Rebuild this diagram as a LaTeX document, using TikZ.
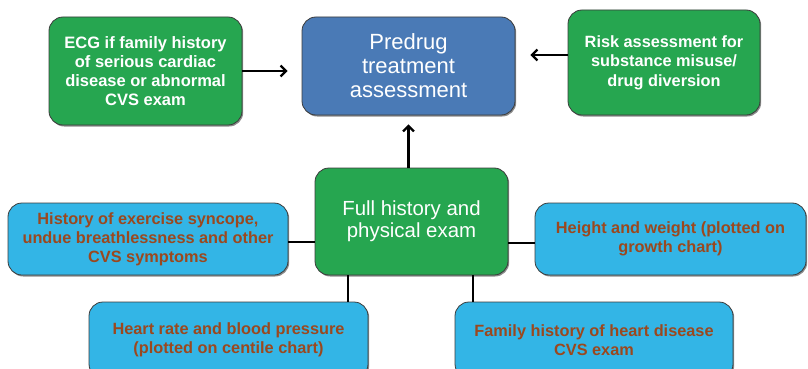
\documentclass[tikz,border=0pt]{standalone}
\usepackage{fontspec}
\setmainfont{Liberation Sans}
\usetikzlibrary{arrows.meta,shadows}
\definecolor{grn}{RGB}{38,166,80}
\definecolor{dblue}{RGB}{74,122,182}
\definecolor{lblue}{RGB}{51,181,230}
\definecolor{brn}{RGB}{155,72,30}
\definecolor{edge}{RGB}{60,60,60}
\tikzset{
  box/.style={draw=edge, line width=0.8pt, rounded corners=14pt, align=center,
    drop shadow={shadow xshift=1.2pt, shadow yshift=-1.5pt, opacity=0.45, fill=black}},
  greenbox/.style={box, fill=grn, text=white, font=\bfseries\fontsize{16.5}{19}\selectfont},
  bluebox/.style={box, fill=lblue, text=brn, font=\bfseries\fontsize{16.3}{19}\selectfont},
  arr/.style={line width=2.2pt, -{Straight Barb[length=5.5pt,width=11pt,line width=2.2pt]}},
  link/.style={line width=2.2pt}
}
\begin{document}
\begin{tikzpicture}[x=1pt,y=-1pt]
\clip (0,0) rectangle (808,369);
\fill[white] (0,0) rectangle (808,369);
\node[greenbox, minimum width=193pt, minimum height=108pt] (ecg) at (145.5,71)
  {ECG if family history\\of serious cardiac\\disease or abnormal\\CVS exam};
\node[box, fill=dblue, text=white, font=\fontsize{22}{24}\selectfont, minimum width=213pt, minimum height=98pt] (pre) at (408.5,66)
  {Predrug\\treatment\\assessment};
\node[greenbox, font=\bfseries\fontsize{16.3}{19.5}\selectfont, minimum width=192pt, minimum height=105pt] (risk) at (664,62.5)
  {Risk assessment for\\substance misuse/\\drug diversion};
\node[box, fill=grn, text=white, font=\fontsize{20.4}{22}\selectfont, minimum width=193pt, minimum height=107pt] (full) at (411.5,221.5)
  {Full history and\\physical exam};
\node[bluebox, minimum width=280pt, minimum height=72pt] (hist) at (148,239)
  {History of exercise syncope,\\undue breathlessness and other\\CVS symptoms};
\node[bluebox, minimum width=271pt, minimum height=72pt] (hw) at (670.5,239)
  {Height and weight (plotted on\\growth chart)};
\node[bluebox, minimum width=279pt, minimum height=76pt] (hr) at (228.5,340)
  {Heart rate and blood pressure\\(plotted on centile chart)};
\node[bluebox, minimum width=278pt, minimum height=76pt] (fam) at (594,340)
  {Family history of heart disease\\CVS exam};
\draw[arr, shorten >=14pt] (ecg.east) -- (ecg.east -| pre.west);
\draw[arr, shorten >=15pt] ([yshift=7.5pt]risk.west) -- ([yshift=7.5pt]risk.west -| pre.east);
\draw[arr, shorten >=9pt] (pre.south |- full.north) -- (pre.south);
\draw[link] ([yshift=-3pt]hist.east) -- ([yshift=-3pt]hist.east -| full.west);
\draw[link] ([yshift=-4pt]hw.west -| full.east) -- ([yshift=-4pt]hw.west);
\draw[link] ([xshift=-63.5pt]full.south) -- ([xshift=-63.5pt]full.south |- hr.north);
\draw[link] ([xshift=61.5pt]full.south) -- ([xshift=61.5pt]full.south |- fam.north);
\end{tikzpicture}
\end{document}
